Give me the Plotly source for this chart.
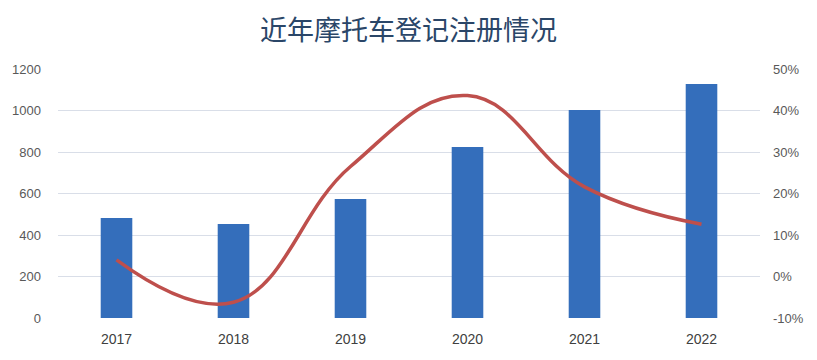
import plotly.graph_objects as go

years = ["2017", "2018", "2019", "2020", "2021", "2022"]
registrations = [482, 453, 573, 824, 1002, 1128]
growth_pct = [4.0, -6.2, 26.5, 43.6, 21.6, 12.6]

left_ticks = [0, 200, 400, 600, 800, 1000, 1200]
right_ticks = [-10, 0, 10, 20, 30, 40, 50]
right_labels = ["-10%", "0%", "10%", "20%", "30%", "40%", "50%"]

fig = go.Figure()
fig.add_trace(go.Bar(
    x=years, y=registrations, name="登记注册",
    marker=dict(color="#346EBB", line=dict(width=0)),
    width=0.27, yaxis="y",
))
fig.add_trace(go.Scatter(
    x=years, y=growth_pct, name="增长率", mode="lines",
    line=dict(color="#BE4F4C", width=3.5, shape="spline", smoothing=1.2),
    yaxis="y2",
))

fig.update_layout(
    width=817, height=360,
    margin=dict(l=56, r=57, t=69, b=42),
    paper_bgcolor="white", plot_bgcolor="white",
    showlegend=False,
    title=dict(text="近年摩托车登记注册情况", x=0.5, xanchor="center", y=0.915, yanchor="middle",
               font=dict(family="Noto Sans CJK SC", size=27, color="#2A4668")),
    font=dict(family="Liberation Sans, Arial", color="#595959", size=13),
    xaxis=dict(showgrid=False, showline=False, zeroline=False, ticks="",
               tickfont=dict(size=14, color="#404040"), ticklabelstandoff=11),
    yaxis=dict(range=[0, 1200], tickvals=left_ticks, showgrid=True, gridcolor="#D9DEE8",
               gridwidth=1, zeroline=False, showline=False, ticks="", ticklabelstandoff=16,
               tickfont=dict(size=13, color="#595959")),
    yaxis2=dict(range=[-10, 50], tickvals=right_ticks, ticktext=right_labels, overlaying="y",
                side="right", showgrid=False, zeroline=False, showline=False, ticks="",
                ticklabelstandoff=12, tickfont=dict(size=13, color="#595959")),
)

fig.write_html("out.html", config={"displayModeBar": False},
               post_script="document.body.style.margin='0';")
